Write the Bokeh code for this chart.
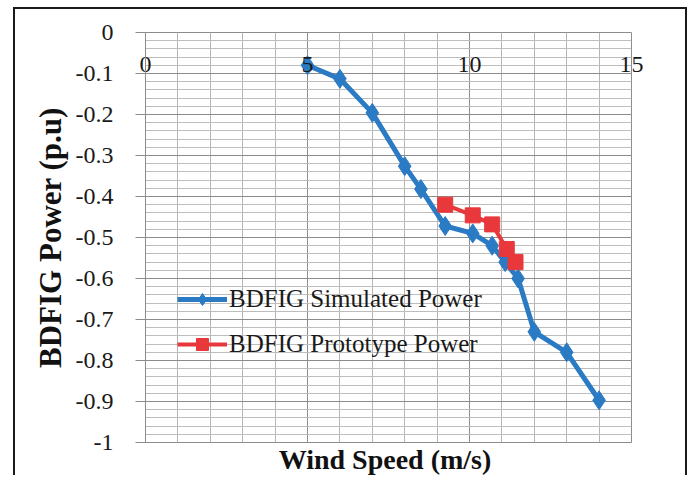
from bokeh.plotting import figure
from bokeh.models import Range1d, FixedTicker, Legend, LegendItem, LinearAxis
from bokeh.embed import file_html
from bokeh.resources import INLINE

# ---- data ----
sim_speed = [5, 6, 7, 8, 8.5, 9.25, 10.1, 10.7, 11.1, 11.5, 12, 13, 14]
sim_power = [-0.08, -0.113, -0.196, -0.326, -0.382, -0.472, -0.49, -0.52, -0.56, -0.60, -0.73, -0.78, -0.897]
proto_speed = [9.25, 10.1, 10.7, 11.15, 11.42]
proto_power = [-0.42, -0.446, -0.468, -0.528, -0.56]

x_ticks = [0, 5, 10, 15]
x_tick_labels = ["0", "5", "10", "15"]
y_ticks = [0, -0.1, -0.2, -0.3, -0.4, -0.5, -0.6, -0.7, -0.8, -0.9, -1]
y_tick_labels = ["0", "-0.1", "-0.2", "-0.3", "-0.4", "-0.5", "-0.6", "-0.7", "-0.8", "-0.9", "-1"]
x_minor = list(range(0, 16))
y_minor = [-i / 50 for i in range(0, 51)]

SERIF = "Liberation Serif"
BLUE = "#2b7bc4"
RED = "#e8383c"

p = figure(width=670, height=466, output_backend="svg", toolbar_location=None,
           x_range=Range1d(0, 15), y_range=Range1d(-1, 0),
           min_border_left=130, min_border_right=58, min_border_top=23, min_border_bottom=35,
           background_fill_color="white", border_fill_color="white")
p.styles = {"margin-left": "13px", "margin-top": "7px", "box-sizing": "content-box",
            "vertical-align": "top",
            "border-left": "2px solid #1a1a1a", "border-top": "2px solid #1a1a1a",
            "border-right": "2px solid #1a1a1a"}
p.outline_line_color = "#8c8c8c"

# grids
p.xgrid.ticker = FixedTicker(ticks=x_ticks, minor_ticks=x_minor)
p.ygrid.ticker = FixedTicker(ticks=y_ticks, minor_ticks=y_minor)
p.xgrid.grid_line_color = "#8c8c8c"
p.xgrid.minor_grid_line_color = "#b4b4b4"
p.ygrid.grid_line_color = "#8c8c8c"
p.ygrid.minor_grid_line_color = "#bdbdbd"

# y axis
p.yaxis.ticker = FixedTicker(ticks=y_ticks)
p.yaxis.major_label_overrides = {t: l for t, l in zip(y_ticks, y_tick_labels)}
p.yaxis.major_label_text_font = SERIF
p.yaxis.major_label_text_font_size = "24px"
p.yaxis.major_label_text_color = "#1a1a1a"
p.yaxis.major_tick_out = 10
p.yaxis.major_tick_in = 0
p.yaxis.major_tick_line_color = "#8c8c8c"
p.yaxis.minor_tick_line_color = None
p.yaxis.axis_line_color = "#8c8c8c"
p.yaxis.major_label_standoff = 22
p.yaxis.axis_label = "BDFIG Power (p.u)"
p.yaxis.axis_label_text_font = SERIF
p.yaxis.axis_label_text_font_style = "bold"
p.yaxis.axis_label_text_font_size = "31px"
p.yaxis.axis_label_text_color = "#111111"
p.yaxis.axis_label_standoff = 5

# bottom x axis: title only
p.xaxis.ticker = FixedTicker(ticks=[])
p.xaxis.major_tick_line_color = None
p.xaxis.minor_tick_line_color = None
p.xaxis.axis_line_color = None
p.xaxis.axis_label = "Wind  Speed (m/s)"
p.xaxis.axis_label_text_font = SERIF
p.xaxis.axis_label_text_font_style = "bold"
p.xaxis.axis_label_text_font_size = "28px"
p.xaxis.axis_label_text_color = "#111111"
p.xaxis.axis_label_standoff = 1

# top axis whose labels sit inside the plot area, as in the reference
top = LinearAxis(ticker=FixedTicker(ticks=x_ticks),
                 major_label_overrides={t: l for t, l in zip(x_ticks, x_tick_labels)},
                 major_label_text_font=SERIF, major_label_text_font_size="24px",
                 major_label_text_color="#1a1a1a", major_label_standoff=-45,
                 axis_line_color=None, major_tick_line_color=None, minor_tick_line_color=None)
p.add_layout(top, "above")

# series
l1 = p.line(sim_speed, sim_power, line_color=BLUE, line_width=5)
m1 = p.scatter(sim_speed, sim_power, marker="diamond", size=19, fill_color=BLUE, line_color=BLUE)
l2 = p.line(proto_speed, proto_power, line_color=RED, line_width=4)
m2 = p.scatter(proto_speed, proto_power, marker="square", size=15, fill_color=RED, line_color=RED)

legend = Legend(items=[LegendItem(label="BDFIG Simulated Power", renderers=[l1, m1]),
                       LegendItem(label="BDFIG Prototype Power", renderers=[l2, m2])],
                location=(32, 83), background_fill_alpha=0, border_line_color=None,
                label_text_font=SERIF, label_text_font_size="25px", label_text_color="#1a1a1a",
                glyph_width=50, glyph_height=30, label_height=30, spacing=15,
                padding=0, margin=0, label_standoff=2)
p.add_layout(legend)

open("out.html", "w").write(file_html(p, INLINE))
